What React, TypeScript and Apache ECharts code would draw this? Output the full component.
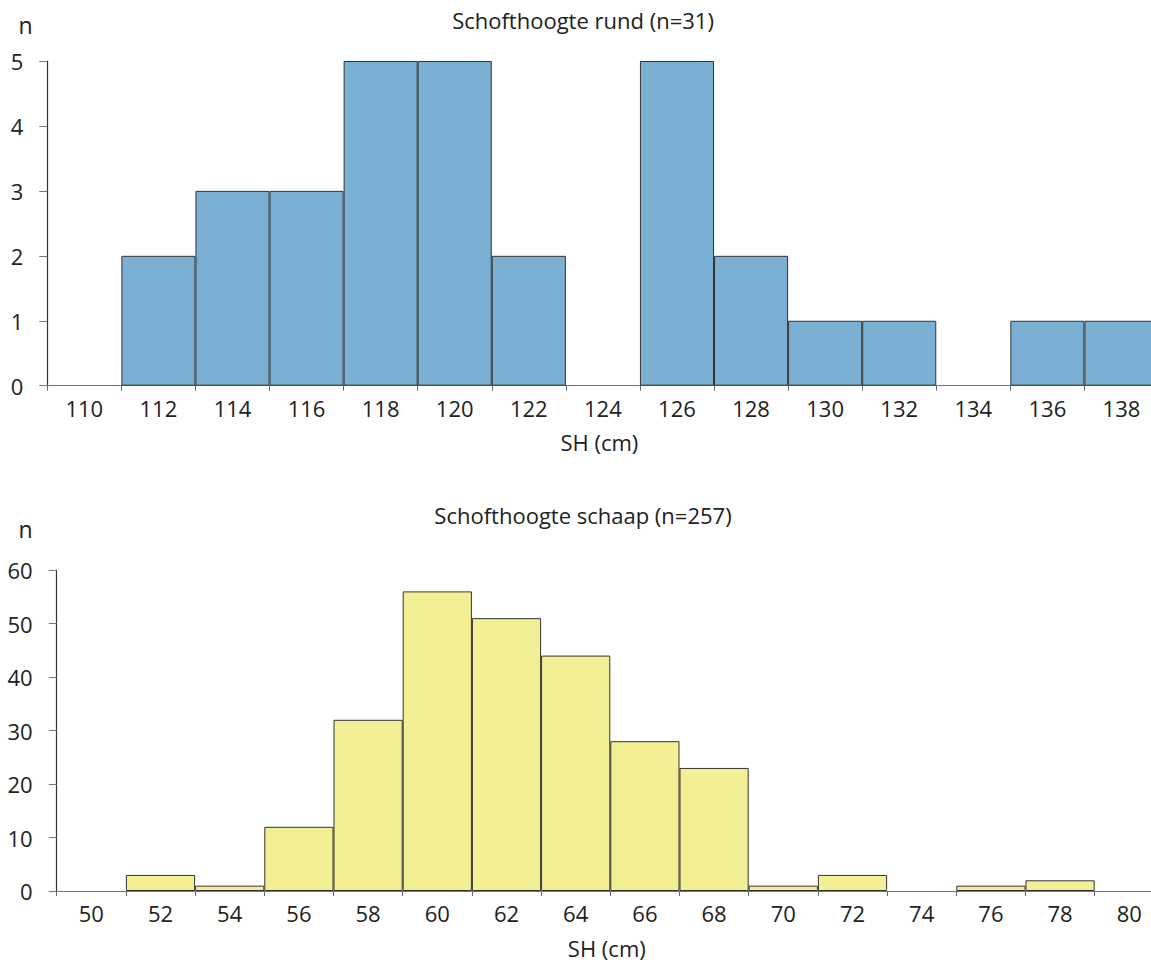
import React, { useEffect, useRef } from "react";
import * as echarts from "echarts";

const cattleBins = ["110", "112", "114", "116", "118", "120", "122", "124", "126", "128", "130", "132", "134", "136", "138"];
const cattleCounts = [0, 2, 3, 3, 5, 5, 2, 0, 5, 2, 1, 1, 0, 1, 1];
const sheepBins = ["50", "52", "54", "56", "58", "60", "62", "64", "66", "68", "70", "72", "74", "76", "78", "80"];
const sheepCounts = [0, 3, 1, 12, 32, 56, 51, 44, 28, 23, 1, 3, 0, 1, 2, 0];
const titleCattle = "Schofthoogte rund (n=31)";
const titleSheep = "Schofthoogte schaap (n=257)";
const xName = "SH (cm)";
const yName = "n";

const FONT = "'Open Sans', 'DejaVu Sans', sans-serif";
const TEXT = "#222";
const CW = 1180; // chart canvas width (wider than the window; clipped by wrapper)

export default function App() {
  const ref = useRef<HTMLDivElement>(null);
  useEffect(() => {
    if (!ref.current) return;
    const chart = echarts.init(ref.current, undefined, { renderer: "svg" });
    const xAxisCommon = (gridIndex: number, data: string[], nameGap: number) => ({
      type: "category",
      gridIndex,
      data,
      boundaryGap: true,
      name: xName,
      nameLocation: "middle",
      nameGap,
      nameTextStyle: { fontFamily: FONT, fontSize: 22, color: TEXT, padding: [0, 7, 0, 0] },
      axisLine: { lineStyle: { color: "#777", width: 1.2 } },
      axisTick: { show: true, length: 5, lineStyle: { color: "#666" } },
      axisLabel: { margin: 11, fontFamily: FONT, fontSize: 22, color: TEXT },
      splitLine: { show: false },
    });
    const yAxisCommon = (gridIndex: number, max: number, interval: number) => ({
      type: "value",
      gridIndex,
      min: 0,
      max,
      interval,
      axisLine: { show: true, lineStyle: { color: "#333", width: 1.2 } },
      axisTick: { show: true, length: 8, lineStyle: { color: "#777" } },
      axisLabel: { margin: 24, fontFamily: FONT, fontSize: 22, color: TEXT },
      splitLine: { show: false },
    });
    chart.setOption({
      animation: false,
      backgroundColor: "#fff",
      grid: [
        { left: 47.3, right: CW - 1158.5, top: 61, bottom: 963 - 385.7, containLabel: false },
        { left: 56.7, right: CW - 1163.9, top: 570, bottom: 963 - 891, containLabel: false },
      ],
      xAxis: [xAxisCommon(0, cattleBins, 45), xAxisCommon(1, sheepBins, 46)],
      yAxis: [yAxisCommon(0, 5, 1), yAxisCommon(1, 60, 10)],
      graphic: [
        { type: "text", x: 583, y: 20, style: { text: titleCattle, align: "center", verticalAlign: "middle", fontFamily: FONT, fontSize: 22, fill: TEXT } },
        { type: "text", x: 583, y: 515, style: { text: titleSheep, align: "center", verticalAlign: "middle", fontFamily: FONT, fontSize: 22, fill: TEXT } },
        { type: "text", x: 25.5, y: 25, style: { text: yName, align: "center", verticalAlign: "middle", fontFamily: FONT, fontSize: 23, fill: TEXT } },
        { type: "text", x: 25.5, y: 529, style: { text: yName, align: "center", verticalAlign: "middle", fontFamily: FONT, fontSize: 23, fill: TEXT } },
      ],
      series: [
        {
          type: "bar",
          xAxisIndex: 0,
          yAxisIndex: 0,
          data: cattleCounts.map((v) => (v === 0 ? "-" : v)),
          barWidth: "100%",
          itemStyle: { color: "#7bafd4", borderColor: "#333", borderWidth: 1 },
        },
        {
          type: "bar",
          xAxisIndex: 1,
          yAxisIndex: 1,
          data: sheepCounts.map((v) => (v === 0 ? "-" : v)),
          barWidth: "100%",
          itemStyle: { color: "#f3ef95", borderColor: "#333", borderWidth: 1 },
        },
      ],
    });
    return () => chart.dispose();
  }, []);
  return (
    <div style={{ position: "fixed", left: 0, top: 0, width: 1151, height: 963, overflow: "hidden", background: "#fff" }}>
      <div ref={ref} style={{ width: CW, height: 963 }} />
    </div>
  );
}
